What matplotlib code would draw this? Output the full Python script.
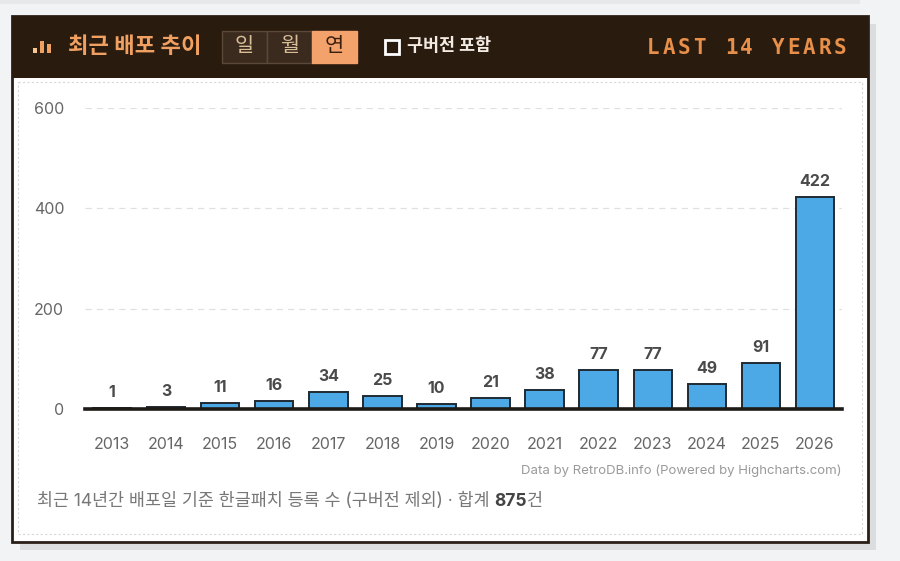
import matplotlib
matplotlib.use("Agg")
import matplotlib.pyplot as plt
from matplotlib.patches import Rectangle

plt.rcParams["font.family"] = ["Inter", "Noto Sans CJK KR", "DejaVu Sans"]

years = ["2013", "2014", "2015", "2016", "2017", "2018", "2019",
         "2020", "2021", "2022", "2023", "2024", "2025", "2026"]
counts = [1, 3, 11, 16, 34, 25, 10, 21, 38, 77, 77, 49, 91, 422]
y_ticks = [0, 200, 400, 600]
buttons = ["일", "월", "연"]
active_button = "연"

W, H = 900, 561
fig = plt.figure(figsize=(W / 100, H / 100), dpi=100)
fig.patch.set_facecolor("#f2f3f4")

# background layer in pixel coordinates (y down)
bg = fig.add_axes([0, 0, 1, 1])
bg.set_xlim(0, W)
bg.set_ylim(H, 0)
bg.axis("off")

bg.add_patch(Rectangle((0, 0), 860, 4, color="#e6e8ea", lw=0))
# shadow
bg.add_patch(Rectangle((20, 24), 856, 526, color="#dcdddf", lw=0))
# card
bg.add_patch(Rectangle((12, 16), 856, 526, facecolor="#ffffff", edgecolor="#2a1f17", lw=2))
bg.add_patch(Rectangle((12, 16), 856, 62, color="#2a1b0f", lw=0))
bg.add_patch(Rectangle((18, 82), 844, 452, facecolor="none", edgecolor="#d8d8d8",
                       lw=0.8, linestyle=(0, (2, 2))))

# header icon
for x0, h in [(33, 5), (40, 12), (47, 9)]:
    bg.add_patch(Rectangle((x0, 53 - h), 4, h, color="#f0a060" if x0 > 33 else "#f6c890", lw=0))
bg.text(68, 47, "최근 배포 추이", color="#f0a060", fontsize=16, fontweight="bold",
        va="center", ha="left")

# period buttons
bx = 222
for b in buttons:
    active = b == active_button
    bg.add_patch(Rectangle((bx, 31), 45, 32,
                           facecolor="#f4a26c" if active else "#3b2b1e",
                           edgecolor="#f4a26c" if active else "#5a4838", lw=1))
    bg.text(bx + 22.5, 46, b, color="#3a1e0c" if active else "#d9bd98",
            fontsize=15, fontweight="medium", va="center", ha="center")
    bx += 45

# checkbox
bg.add_patch(Rectangle((385, 40), 14, 14, facecolor="#2a1b0f", edgecolor="#ffffff", lw=2))
bg.text(407, 46, "구버전 포함", color="#f2ebe4", fontsize=12.5, fontweight="bold",
        va="center", ha="left")

# pixel-style header label, one character per fixed cell
label = "LAST 14 YEARS"
pitch = 15.6
for i, ch in enumerate(label):
    bg.text(848 - pitch * (len(label) - 1 - i) - pitch / 2, 48, ch, color="#e8904a",
            fontsize=15, fontweight="bold", family="DejaVu Sans Mono",
            va="center", ha="center")

# chart
ax = fig.add_axes([85 / W, (H - 409) / H, (842 - 85) / W, (409 - 108) / H])
ax.set_facecolor("none")
x = list(range(len(years)))
ax.bar(x, counts, width=0.71, color="#4da9e6", edgecolor="#1f2a33", linewidth=1.4,
       zorder=3)
ax.set_xlim(-0.5, len(years) - 0.5)
ax.set_ylim(0, 600)
ax.set_yticks(y_ticks)
ax.set_xticks(x)
ax.set_xticklabels(years)
ax.tick_params(axis="both", length=0, colors="#666666", labelsize=11.5)
ax.tick_params(axis="y", pad=15)
ax.tick_params(axis="x", pad=20)
ax.grid(axis="y", color="#e0e0e0", linestyle=(0, (5, 4)), linewidth=0.9, zorder=0)
for s in ax.spines.values():
    s.set_visible(False)
ax.axhline(0, color="#1e1a16", linewidth=2.6, zorder=4, clip_on=False)

for xi, v in zip(x, counts):
    ax.annotate(str(v), (xi, v), xytext=(0, 6), textcoords="offset points",
                ha="center", va="bottom", fontsize=11.5, fontweight="bold",
                color="#4a4a4a", clip_on=False)

# footer
bg.text(842, 471, "Data by RetroDB.info (Powered by Highcharts.com)", color="#9a9a9a",
        fontsize=9.5, ha="right", va="center")

fig.canvas.draw()
renderer = fig.canvas.get_renderer()
parts = [("최근 14년간 배포일 기준 한글패치 등록 수 (구버전 제외) · 합계 ", "normal", "#777777"),
         ("875", "bold", "#444444"),
         ("건", "normal", "#777777")]
cx = 37
for txt, wt, col in parts:
    t = bg.text(cx, 501, txt, color=col, fontsize=12.5, fontweight=wt, ha="left", va="center")
    ext = t.get_window_extent(renderer)
    cx += ext.width

fig.savefig("out.png", dpi=100, facecolor=fig.get_facecolor())
